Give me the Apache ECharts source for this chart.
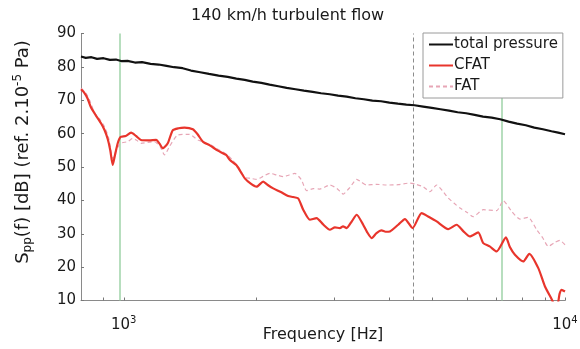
<!DOCTYPE html>
<html>
<head>
<meta charset="utf-8">
<script src="https://cdn.jsdelivr.net/npm/echarts@6/dist/echarts.min.js"></script>
<style>
  html, body { margin: 0; padding: 0; background: #fff; }
  #chart { width: 580px; height: 349px; }
</style>
</head>
<body>
<div id="chart"></div>
<script>
// Wall-pressure spectra at 140 km/h: [frequency Hz, level dB]
const totalPressure = [
  [800,83.1],[820,82.7],[845,82.9],[870,82.4],[900,82.6],[930,82.1],[960,82.2],[990,81.7],
  [1020,81.8],[1060,81.3],[1100,81.4],[1150,80.9],[1200,80.7],[1250,80.3],[1300,79.9],
  [1360,79.6],[1420,78.9],[1490,78.4],[1560,77.9],[1640,77.4],[1720,77.0],[1800,76.5],
  [1880,76.1],[1960,75.6],[2050,75.2],[2140,74.7],[2240,74.2],[2340,73.7],[2450,73.3],
  [2560,72.9],[2680,72.5],[2800,72.1],[2930,71.8],[3060,71.4],[3200,71.1],[3350,70.6],
  [3500,70.3],[3660,69.9],[3830,69.7],[4000,69.3],[4180,69.0],[4370,68.7],[4560,68.5],
  [4770,68.1],[4990,67.7],[5220,67.3],[5460,66.9],[5710,66.4],[5970,66.1],[6240,65.6],
  [6520,65.1],[6820,64.8],[7130,64.3],[7450,63.6],[7790,63.0],[8150,62.5],[8520,61.8],
  [8910,61.3],[9320,60.7],[9650,60.3],[10000,59.8]
];
const cfat = [
  [800,73.3],[812,72.4],[828,70.5],[843,67.8],[865,65.4],[888,63.1],[905,61.0],[920,58.3],
  [932,55.0],[944,50.6],[955,53.5],[969,57.1],[983,59.0],[1010,59.3],[1039,60.3],[1066,59.3],
  [1094,58.1],[1140,58.0],[1184,58.1],[1205,57.0],[1226,55.6],[1258,57.1],[1291,61.0],
  [1330,61.6],[1373,61.8],[1434,61.3],[1470,59.8],[1511,57.6],[1570,56.4],[1634,54.9],
  [1706,53.6],[1740,52.1],[1799,50.6],[1840,48.6],[1881,46.6],[1940,45.0],[2000,44.1],
  [2070,45.6],[2120,44.6],[2181,43.6],[2270,42.5],[2358,41.3],[2420,41.0],[2485,40.6],
  [2551,37.2],[2641,34.2],[2735,34.7],[2830,32.8],[2932,31.2],[3010,31.9],[3089,31.7],
  [3140,32.2],[3199,31.7],[3290,33.8],[3372,35.7],[3488,32.7],[3560,30.5],[3645,28.7],
  [3740,30.2],[3840,31.0],[3920,30.6],[4011,30.7],[4188,32.7],[4337,34.4],[4514,31.7],
  [4732,36.2],[4920,35.0],[5118,33.7],[5437,31.4],[5681,32.7],[5880,30.8],[6088,29.2],
  [6358,30.4],[6526,27.2],[6750,26.2],[6999,24.7],[7348,28.9],[7500,26.0],[7701,23.7],
  [8042,21.7],[8299,24.0],[8700,19.7],[9008,14.2],[9329,10.4],[9450,9.0],[9620,9.0],
  [9720,12.0],[9829,13.2],[10000,12.7]
];
const fat = [
  [800,73.6],[820,72.3],[840,69.5],[858,66.3],[880,64.5],[905,62.0],[925,58.5],[944,52.5],
  [960,54.8],[983,57.1],[1021,57.6],[1048,58.6],[1070,58.0],[1094,57.1],[1174,57.6],
  [1210,56.0],[1237,53.6],[1269,56.1],[1326,59.6],[1409,59.8],[1472,58.1],[1578,56.6],
  [1634,55.3],[1706,53.9],[1760,52.2],[1820,50.0],[1881,46.9],[1940,46.6],[2000,46.3],
  [2070,47.2],[2143,48.1],[2220,47.6],[2298,47.1],[2370,47.6],[2442,48.1],[2528,46.1],
  [2596,42.9],[2690,43.5],[2782,43.4],[2932,44.6],[3040,43.6],[3143,41.9],[3260,44.0],
  [3372,46.3],[3460,45.4],[3550,44.6],[3740,44.8],[3941,44.6],[4188,44.7],[4451,45.2],
  [4600,44.8],[4771,44.1],[4941,42.6],[5118,44.6],[5280,42.8],[5437,40.7],[5600,39.2],
  [5780,37.7],[6000,36.4],[6195,35.1],[6526,37.2],[6999,36.9],[7246,39.9],[7570,36.7],
  [7907,34.4],[8257,34.9],[8627,31.2],[8900,28.8],[9165,26.2],[9450,27.3],[9743,28.0],
  [10000,26.7]
];

// Reference frequencies marked across the plot (Hz)
const greenMarkers = [977, 7200];
const greyMarker = [4520];

// Axis ticks
const xMin = 800, xMax = 10000;
const xLabelValues = [1000, 10000];
const xTickValues = [900, 1000, 2000, 3000, 4000, 5000, 6000, 7000, 8000, 9000, 10000];
const yMin = 10, yMax = 90, yStep = 10;

const FONT = '"DejaVu Sans", "Liberation Sans", Arial, sans-serif';
const TEXT = '#1a1a1a';
const AXIS = '#8a8a8a';

// Legend glyphs: a solid stroke and a dashed stroke
const ICON_SOLID = 'path://M0,0H24V2H0Z';
const ICON_DASHED = 'path://M0,0H4V2H0Z M7,0H11V2H7Z M14,0H18V2H14Z M21,0H24V2H21Z';

const chart = echarts.init(document.getElementById('chart'));

chart.setOption({
  animation: false,
  backgroundColor: '#ffffff',
  textStyle: { fontFamily: FONT },
  title: {
    text: '140 km/h turbulent flow',
    left: 186,
    top: 3,
    textStyle: { fontFamily: FONT, fontSize: 16, fontWeight: 'normal', color: TEXT }
  },
  grid: { left: 81, right: 15, top: 33.5, bottom: 48.5, outerBoundsMode: 'none' },
  legend: {
    orient: 'vertical',
    left: 423,
    top: 33,
    width: 139,
    itemWidth: 24,
    itemHeight: 2,
    itemGap: 4,
    padding: [3, 5, 3, 6],
    borderColor: '#9a9a9a',
    borderWidth: 1,
    borderRadius: 0,
    backgroundColor: '#ffffff',
    textStyle: { fontFamily: FONT, fontSize: 15, color: TEXT, lineHeight: 17, padding: [0, 0, 0, -4] },
    data: [
      { name: 'total pressure', icon: ICON_SOLID },
      { name: 'CFAT', icon: ICON_SOLID },
      { name: 'FAT', icon: ICON_DASHED }
    ]
  },
  xAxis: {
    type: 'log',
    logBase: 10,
    min: xMin,
    max: xMax,
    name: 'Frequency [Hz]',
    nameLocation: 'middle',
    nameGap: 26,
    nameMoveOverlap: false,
    nameTextStyle: { fontFamily: FONT, fontSize: 16, color: TEXT },
    axisLine: { show: true, lineStyle: { color: AXIS, width: 1 } },
    axisTick: { show: true, inside: true, length: 3, customValues: xTickValues, lineStyle: { color: '#777' } },
    minorTick: { show: false },
    splitLine: { show: false },
    axisLabel: {
      customValues: xLabelValues,
      margin: 15,
      color: TEXT,
      fontFamily: FONT,
      fontSize: 15,
      formatter: function (v) {
        return '10{s|' + Math.round(Math.log10(v)) + '}';
      },
      rich: {
        s: { fontSize: 10, verticalAlign: 'top', lineHeight: 10, color: TEXT, fontFamily: FONT }
      },
      lineHeight: 20
    }
  },
  yAxis: {
    type: 'value',
    min: yMin,
    max: yMax,
    interval: yStep,
    name: 'S{sub|pp}(f) [dB] (ref. 2.10{sup|-5} Pa)',
    nameLocation: 'middle',
    nameGap: 47,
    nameRotate: 90,
    nameTextStyle: {
      fontFamily: FONT,
      fontSize: 18,
      color: TEXT,
      lineHeight: 22,
      padding: [0, 0, 0, 30],
      rich: {
        sub: { fontSize: 12, verticalAlign: 'bottom', lineHeight: 12, color: TEXT, fontFamily: FONT },
        sup: { fontSize: 12, verticalAlign: 'top', lineHeight: 12, color: TEXT, fontFamily: FONT }
      }
    },
    axisLine: { show: true, lineStyle: { color: AXIS, width: 1 } },
    axisTick: { show: true, inside: true, length: 3, lineStyle: { color: '#777' } },
    splitLine: { show: false },
    axisLabel: { margin: 5, color: TEXT, fontFamily: FONT, fontSize: 15 }
  },
  series: [
    {
      name: 'total pressure',
      type: 'line',
      data: totalPressure,
      symbol: 'none',
      z: 5,
      lineStyle: { color: '#111111', width: 2.2 },
      itemStyle: { color: '#111111' },
      markLine: {
        silent: true,
        symbol: 'none',
        label: { show: false },
        z: 1,
        data: greenMarkers.map(function (f) {
          return { xAxis: f, lineStyle: { color: '#9fd3a8', width: 1.5, type: 'solid' } };
        }).concat(greyMarker.map(function (f) {
          return { xAxis: f, lineStyle: { color: '#8c8c8c', width: 1, type: [4, 3] } };
        }))
      }
    },
    {
      name: 'CFAT',
      type: 'line',
      data: cfat,
      symbol: 'none',
      smooth: 0.2,
      clip: true,
      z: 4,
      lineStyle: { color: '#e8352c', width: 2.2 },
      itemStyle: { color: '#e8352c' }
    },
    {
      name: 'FAT',
      type: 'line',
      data: fat,
      symbol: 'none',
      smooth: 0.2,
      z: 3,
      lineStyle: { color: '#e7a6b6', width: 1.2, type: [4, 3] },
      itemStyle: { color: '#e7a6b6' }
    }
  ]
});
</script>
</body>
</html>
